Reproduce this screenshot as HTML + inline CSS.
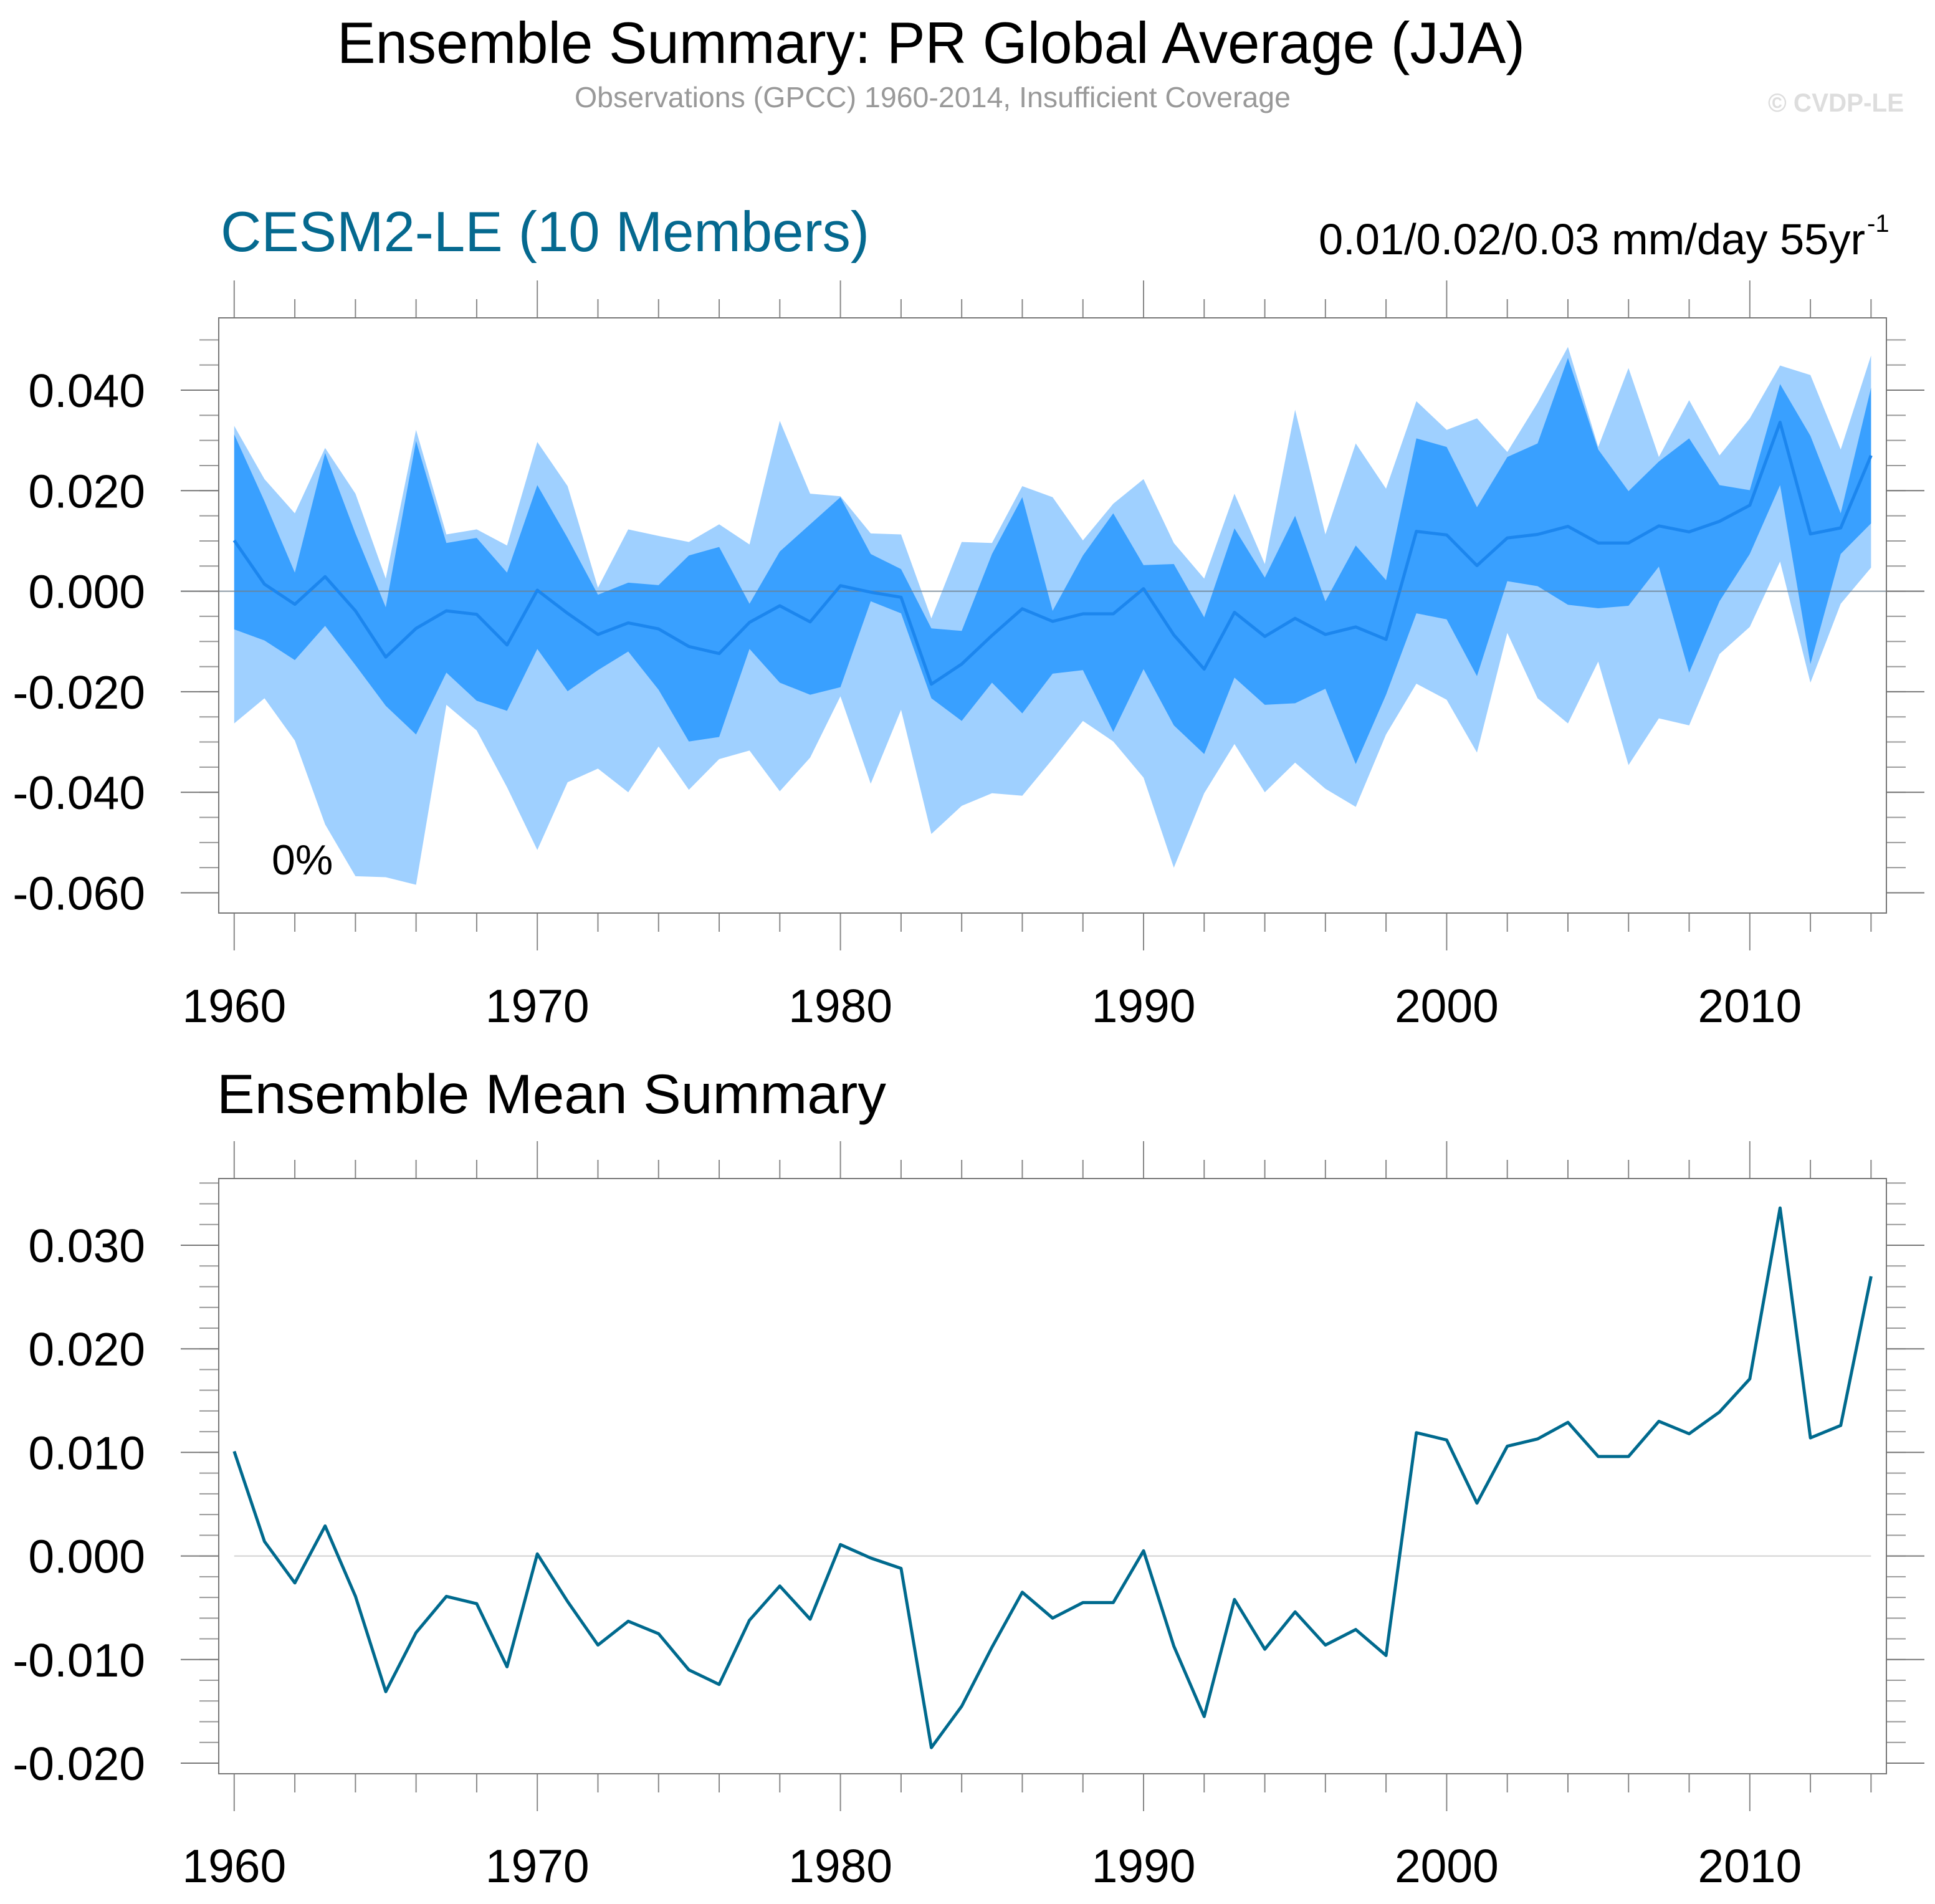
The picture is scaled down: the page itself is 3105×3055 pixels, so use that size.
<!DOCTYPE html>
<html><head><meta charset="utf-8">
<style>
html,body{margin:0;padding:0;background:#fff;}
svg{display:block;font-family:"Liberation Sans",Arial,sans-serif;}
</style></head>
<body>
<svg id="chart" width="3105" height="3055" viewBox="0 0 3105 3055" xmlns="http://www.w3.org/2000/svg">
<rect width="3105" height="3055" fill="#fff"/>
<text x="541" y="101" font-size="94" textLength="1906" lengthAdjust="spacingAndGlyphs" fill="#000">Ensemble Summary: PR Global Average (JJA)</text>
<text x="922" y="172" font-size="46" textLength="1149" lengthAdjust="spacingAndGlyphs" fill="#999">Observations (GPCC) 1960-2014, Insufficient Coverage</text>
<text x="2837" y="179" font-size="42" font-weight="bold" textLength="218" lengthAdjust="spacingAndGlyphs" fill="#ddd">© CVDP-LE</text>
<text x="354" y="403" font-size="91" textLength="1041" lengthAdjust="spacingAndGlyphs" fill="#05698f">CESM2-LE (10 Members)</text>
<text x="2116" y="408" font-size="70" textLength="877" lengthAdjust="spacingAndGlyphs" fill="#000">0.01/0.02/0.03 mm/day 55yr</text>
<text x="2996" y="372" font-size="40" fill="#000">-1</text>
<text x="348" y="1786" font-size="89" textLength="1074" lengthAdjust="spacingAndGlyphs" fill="#000">Ensemble Mean Summary</text>
<g id="top"></g>
<g id="bottom"></g>
</svg>
<script>
const years = [];
for (let y = 1960; y <= 2014; y++) years.push(y);
const ensMean = [0.0101,0.0014,-0.0026,0.0029,-0.0039,-0.0131,-0.0074,-0.0039,-0.0046,-0.0107,0.0002,-0.0044,-0.0086,-0.0063,-0.0075,-0.011,-0.0124,-0.0062,-0.0029,-0.0061,0.0011,-0.0002,-0.0012,-0.0185,-0.0145,-0.0088,-0.0035,-0.006,-0.0045,-0.0045,0.0005,-0.0087,-0.0155,-0.0042,-0.009,-0.0054,-0.0086,-0.0071,-0.0096,0.0119,0.0112,0.0051,0.0106,0.0113,0.0129,0.0096,0.0096,0.013,0.0118,0.0139,0.0171,0.0336,0.0114,0.0126,0.027];
const maxVals = [0.0329,0.0223,0.0155,0.0285,0.0194,0.0025,0.0321,0.0113,0.0123,0.0091,0.0297,0.0209,0.0007,0.0123,0.011,0.0098,0.0133,0.0093,0.0339,0.0194,0.0189,0.0115,0.0113,-0.0054,0.0098,0.0096,0.0209,0.0187,0.0101,0.0174,0.0223,0.0096,0.0025,0.0194,0.0054,0.0361,0.0113,0.0294,0.0204,0.0378,0.0321,0.0344,0.0277,0.0375,0.0486,0.0287,0.0444,0.0267,0.038,0.027,0.0344,0.0449,0.043,0.0282,0.0469];
const upperVals = [0.0312,0.0179,0.0037,0.0275,0.0115,-0.0032,0.0299,0.0096,0.0106,0.0037,0.0211,0.0106,-0.0007,0.0017,0.0012,0.0071,0.0088,-0.0025,0.0079,0.0133,0.0187,0.0074,0.0044,-0.0074,-0.0079,0.0074,0.0187,-0.0039,0.0071,0.0155,0.0052,0.0054,-0.0052,0.0125,0.0027,0.015,-0.002,0.0091,0.0022,0.0304,0.0287,0.0167,0.0267,0.0294,0.0464,0.0282,0.0199,0.0258,0.0304,0.0211,0.0201,0.0412,0.0309,0.0155,0.0405];
const lowerVals = [-0.0076,-0.0098,-0.0137,-0.0069,-0.0147,-0.0228,-0.0285,-0.0162,-0.0218,-0.0238,-0.0115,-0.0199,-0.0157,-0.012,-0.0196,-0.0299,-0.029,-0.0115,-0.0182,-0.0206,-0.0191,-0.002,-0.0044,-0.0213,-0.0258,-0.0182,-0.0243,-0.0164,-0.0157,-0.028,-0.0155,-0.0267,-0.0324,-0.0172,-0.0226,-0.0223,-0.0194,-0.0344,-0.0206,-0.0044,-0.0056,-0.0169,0.002,0.001,-0.0027,-0.0034,-0.0029,0.0049,-0.0162,-0.002,0.0074,0.0211,-0.0145,0.0074,0.0135];
const minVals = [-0.0263,-0.0213,-0.0297,-0.0464,-0.0567,-0.0569,-0.0584,-0.0226,-0.0277,-0.039,-0.0515,-0.038,-0.0353,-0.04,-0.0309,-0.0395,-0.0334,-0.0317,-0.0398,-0.0331,-0.0209,-0.0383,-0.0236,-0.0483,-0.0427,-0.0402,-0.0407,-0.0334,-0.0258,-0.0299,-0.0371,-0.055,-0.0402,-0.0304,-0.04,-0.0341,-0.0393,-0.0429,-0.0285,-0.0184,-0.0216,-0.0321,-0.0083,-0.0213,-0.0263,-0.014,-0.0346,-0.0253,-0.0267,-0.0125,-0.0071,0.0059,-0.0182,-0.0025,0.0047];
const topYTicks = [0.04,0.02,0,-0.02,-0.04,-0.06];
const topYLabels = ["0.040","0.020","0.000","-0.020","-0.040","-0.060"];
const botYTicks = [0.03,0.02,0.01,0,-0.01,-0.02];
const botYLabels = ["0.030","0.020","0.010","0.000","-0.010","-0.020"];
const xTickYears = [1960,1970,1980,1990,2000,2010];
const xTickLabels = ["1960","1970","1980","1990","2000","2010"];

const NS = "http://www.w3.org/2000/svg";
function mk(parent, tag, attrs){const e=document.createElementNS(NS,tag);for(const k in attrs)e.setAttribute(k,attrs[k]);parent.appendChild(e);return e;}
const xS = yr => 375.8 + (yr - 1960) * 48.64;
const L = 351, R = 3027;

function frame(g, top, bot, yS, vmin, vmax, minorStep, ticks, labels, labelY, namePrefix){
  for (let yr = 1960; yr <= 2014; yr += 2) {
    const major = (yr % 10 === 0);
    const len = major ? 60 : 30;
    const t1 = mk(g,'line',{x1:xS(yr),x2:xS(yr),y1:top-len,y2:top,stroke:'#888','stroke-width':2});
    
    
    const t2 = mk(g,'line',{x1:xS(yr),x2:xS(yr),y1:bot,y2:bot+len,stroke:'#888','stroke-width':2});
    
    
  }
  const n = Math.round((vmax - vmin) / minorStep);
  for (let i = 0; i <= n; i++) {
    const v = vmin + i * minorStep;
    const y = yS(v);
    if (y < top - 1 || y > bot + 1) continue;
    const t = mk(g,'line',{x1:L-31,x2:L,y1:y,y2:y,stroke:'#999','stroke-width':2});
    
    
    const t2 = mk(g,'line',{x1:R,x2:R+31,y1:y,y2:y,stroke:'#999','stroke-width':2});
    
    
  }
  ticks.forEach((v,i)=>{
    const y = yS(v);
    const t = mk(g,'line',{x1:L-61,x2:L,y1:y,y2:y,stroke:'#777','stroke-width':2});
    
    
    const t2 = mk(g,'line',{x1:R,x2:R+61,y1:y,y2:y,stroke:'#777','stroke-width':2});
    
    
    const tx = mk(g,'text',{x:233,y:y+27,'font-size':75,'text-anchor':'end',fill:'#000'});
    tx.textContent = labels[i];
    
    
  });
  xTickYears.forEach((yr,i)=>{
    const tx = mk(g,'text',{x:xS(yr),y:labelY,'font-size':75,'text-anchor':'middle',fill:'#000'});
    tx.textContent = xTickLabels[i];
    
    
  });
  const f = mk(g,'rect',{x:L,y:top,width:R-L,height:bot-top,fill:'none',stroke:'#777','stroke-width':2});
  
  
}

function bandPath(up, lo, yS){
  let d = '';
  years.forEach((yr,i)=>{ d += (i?'L':'M') + xS(yr).toFixed(1) + ',' + yS(up[i]).toFixed(1); });
  for (let i = years.length-1; i >= 0; i--) d += 'L' + xS(years[i]).toFixed(1) + ',' + yS(lo[i]).toFixed(1);
  return d + 'Z';
}
function linePath(vals, yS){
  return years.map((yr,i)=>(i?'L':'M') + xS(yr).toFixed(1) + ',' + yS(vals[i]).toFixed(1)).join('');
}

const gt = document.getElementById('top');
const T0 = 510, T1 = 1465;
const yT = v => 948.6 - v * 8065;
const lb = mk(gt,'path',{d:bandPath(maxVals,minVals,yT),fill:'#9fd0ff'});


const db = mk(gt,'path',{d:bandPath(upperVals,lowerVals,yT),fill:'#39a0ff'});


const z1 = mk(gt,'line',{x1:L-61,x2:R+61,y1:yT(0),y2:yT(0),stroke:'#6f7f8f','stroke-width':2,'stroke-opacity':0.8});


const ml = mk(gt,'path',{d:linePath(ensMean,yT),fill:'none',stroke:'#1c86ee','stroke-width':5,'stroke-linejoin':'round'});


frame(gt, T0, T1, yT, -0.065, 0.055, 0.005, topYTicks, topYLabels, 1640, 'top');
const pc = mk(gt,'text',{x:436,y:1403,'font-size':68,fill:'#000'});
pc.textContent = '0%';



const gb = document.getElementById('bottom');
const B0 = 1891, B1 = 2846;
const yB = v => 2496.6 - v * 16620;
const z2 = mk(gb,'line',{x1:xS(1960),x2:xS(2014),y1:yB(0),y2:yB(0),stroke:'#d0d0d0','stroke-width':2});


const bl = mk(gb,'path',{d:linePath(ensMean,yB),fill:'none',stroke:'#006a8e','stroke-width':5,'stroke-linejoin':'round'});


frame(gb, B0, B1, yB, -0.024, 0.040, 0.002, botYTicks, botYLabels, 3020, 'bottom');
</script>
</body></html>
